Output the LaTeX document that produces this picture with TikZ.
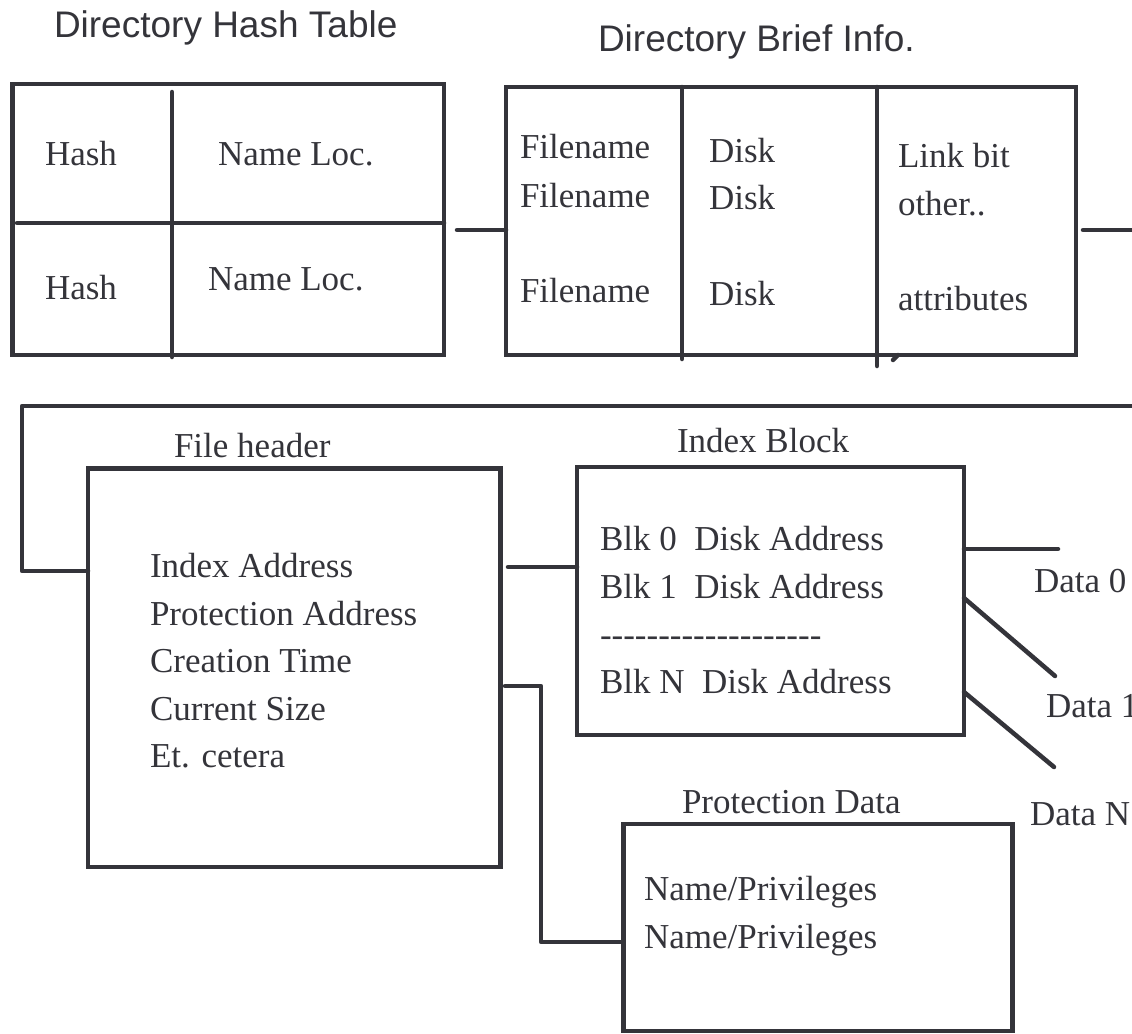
\documentclass[tikz,border=0pt]{standalone}
\usepackage{fontspec}
\setmainfont{Liberation Serif}
\newfontfamily\titlefont{Liberation Sans}
\definecolor{ink}{RGB}{52,52,58}
\newcommand{\hy}{-\kern0pt}
\begin{document}
\begin{tikzpicture}[x=1pt,y=-1pt,
  every node/.style={inner sep=0pt, outer sep=0pt, text=ink},
  frame/.style={draw=ink, line width=4.5pt, rectangle},
  rule/.style={draw=ink, line width=4.5pt, line cap=round, line join=round},
  title/.style={anchor=base west, font=\titlefont\fontsize{37}{44}\selectfont},
  entry/.style={anchor=base west, font=\fontsize{35}{42}\selectfont}]
\useasboundingbox (0,0) rectangle (1132,1033);

% ---- directory hash table ----
\node[title] (t-hash) at (54,38) {Directory Hash Table};
\node[frame, minimum width=431.3pt, minimum height=271pt] (hash) at (228.35,219.5) {};
\draw[rule] (172,92) -- (172,357);
\draw[rule] (17,223) -- (hash.east |- 0,223);
\node[entry] (h1) at (45,165) {Hash};
\node[entry] (h2) at (45,299) {Hash};
\node[entry] (n1) at (218,165) {Name Loc.};
\node[entry] (n2) at (208,290) {Name Loc.};

% ---- directory brief info ----
\node[title] (t-brief) at (598,52) {Directory Brief Info.};
\node[frame, minimum width=570pt, minimum height=268pt] (brief) at (791,221) {};
\draw[rule] (682,87) -- (682,359);
\draw[rule] (877,87) -- (877,366);
\draw[rule] (893,360) -- (898,355);
\node[entry] (f1) at (520,158) {Filename};
\node[entry] (f2) at (520,207) {Filename};
\node[entry] (f3) at (520,302) {Filename};
\node[entry] (k1) at (709,162) {Disk};
\node[entry] (k2) at (709,209) {Disk};
\node[entry] (k3) at (709,305) {Disk};
\node[entry] (a1) at (898,167) {Link bit};
\node[entry] (a2) at (898,215) {other..};
\node[entry] (a3) at (898,310) {attributes};

% hash table to brief info
\coordinate (hb) at (457,230);
\draw[rule] (hb) -- (hb -| brief.west);
% brief info leaves to the right and returns along the top of the file area
\coordinate (bout) at (1083,230);
\coordinate (edgeA) at (1132,230);
\draw[rule] (bout) -- (edgeA);

% ---- file header ----
\node[entry] (t-fh) at (174,457) {File header};
\node[frame, minimum width=412.7pt, minimum height=398.5pt] (fh) at (294.35,667.75) {};
\node[entry] (e1) at (150,577) {Index Address};
\node[entry] (e2) at (150,625) {Protection Address};
\node[entry] (e3) at (150,672) {Creation Time};
\node[entry] (e4) at (150,720) {Current Size};
\node[entry] (e5) at (150,767) {Et. cetera};

\coordinate (edgeB) at (1132,406);
\draw[rule] (edgeB) -| (22,571) -- (fh.west |- 0,571);

% ---- index block ----
\node[entry] (t-idx) at (677,452) {Index Block};
\node[frame, minimum width=387pt, minimum height=268pt] (idx) at (770.5,601) {};
\node[entry] (b0) at (600,550) {Blk 0\ \ Disk Address};
\node[entry] (b1) at (600,598) {Blk 1\ \ Disk Address};
\node[entry] (bd) at (600,646) {\hy\hy\hy\hy\hy\hy\hy\hy\hy\hy\hy\hy\hy\hy\hy\hy\hy\hy-};
\node[entry] (bn) at (600,693) {Blk N\ \ Disk Address};

\coordinate (fi) at (508,567);
\draw[rule] (fi) -- (fi -| idx.west);

% data blocks
\coordinate (d0) at (1058,549);
\coordinate (d1) at (1055,676);
\coordinate (dn) at (1054,767);
\draw[rule] (idx.east |- d0) -- (d0);
\draw[rule] (idx.east |- 0,598) -- (d1);
\draw[rule] (idx.east |- 0,692) -- (dn);
\node[entry] (l0) at (1034,592) {Data 0};
\node[entry] (l1) at (1046,717) {Data 1};
\node[entry] (ln) at (1030,825) {Data N};

% ---- protection data ----
\node[entry] (t-prot) at (682,813) {Protection Data};
\node[frame, minimum width=389pt, minimum height=207pt] (prot) at (818,927.5) {};
\node[entry] (p1) at (644,900) {Name/Privileges};
\node[entry] (p2) at (644,948) {Name/Privileges};

\coordinate (fp) at (505,686);
\draw[rule] (fp) -| (541,942) -- (prot.west |- 0,942);
\end{tikzpicture}
\end{document}
